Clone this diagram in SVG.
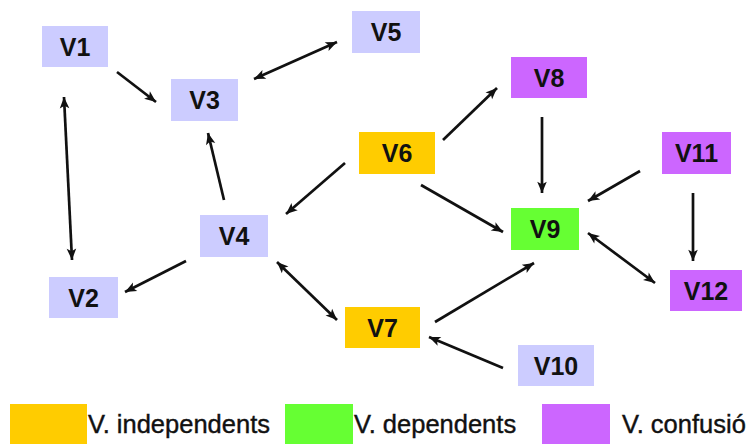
<svg xmlns="http://www.w3.org/2000/svg" width="749" height="444" viewBox="0 0 749 444">
  <style>
    .lbl { font-family: "Liberation Sans", Arial, sans-serif; font-weight: bold; font-size: 25px; fill: #111; text-anchor: middle; }
    .leg { font-family: "Liberation Sans", Arial, sans-serif; font-size: 25.5px; fill: #111; stroke: #111; stroke-width: 0.4; }
    .ind { fill: #FFCC00; }
    .dep { fill: #66FF33; }
    .conf { fill: #CC66FF; }
    .other { fill: #CCCCFF; }
    .edge { stroke: #111; stroke-width: 2.7; fill: none; }
  </style>
  <defs>
    <marker id="head" viewBox="0 0 12 10" refX="11" refY="5" markerWidth="13" markerHeight="11" markerUnits="userSpaceOnUse" orient="auto-start-reverse">
      <path d="M0.5,0.6 L11,5 L0.5,9.4 L3,5 Z" fill="#111"/>
    </marker>
  </defs>

  <rect width="749" height="444" fill="#ffffff"/>

  <!-- nodes -->
  <g id="V1"><rect class="other" x="42" y="26" width="66" height="41"/><text class="lbl" x="75" y="55.5">V1</text></g>
  <g id="V2"><rect class="other" x="49" y="277" width="69" height="41"/><text class="lbl" x="83.5" y="306.5">V2</text></g>
  <g id="V3"><rect class="other" x="171" y="79" width="67" height="42"/><text class="lbl" x="204.5" y="109">V3</text></g>
  <g id="V4"><rect class="other" x="200" y="215" width="68" height="42"/><text class="lbl" x="234" y="245">V4</text></g>
  <g id="V5"><rect class="other" x="352" y="11" width="68" height="42"/><text class="lbl" x="386" y="41">V5</text></g>
  <g id="V6"><rect class="ind" x="359" y="132" width="76" height="42"/><text class="lbl" x="397" y="162">V6</text></g>
  <g id="V7"><rect class="ind" x="345" y="307" width="75" height="41"/><text class="lbl" x="382.5" y="336.5">V7</text></g>
  <g id="V8"><rect class="conf" x="511" y="57" width="76" height="41"/><text class="lbl" x="549" y="86.5">V8</text></g>
  <g id="V9"><rect class="dep" x="511" y="208" width="68" height="42"/><text class="lbl" x="545" y="238">V9</text></g>
  <g id="V10"><rect class="other" x="518" y="345" width="76" height="41"/><text class="lbl" x="556" y="374.5">V10</text></g>
  <g id="V11"><rect class="conf" x="662" y="132" width="69" height="42"/><text class="lbl" x="696.5" y="162">V11</text></g>
  <g id="V12"><rect class="conf" x="670" y="270" width="72" height="41"/><text class="lbl" x="706" y="299.5">V12</text></g>

  <!-- connectors -->
  <g id="connectors" class="edge">
    <line x1="117" y1="72" x2="156" y2="102" marker-end="url(#head)"/>
    <line x1="254" y1="79" x2="337" y2="42" marker-start="url(#head)" marker-end="url(#head)"/>
    <line x1="64" y1="97" x2="72" y2="260" marker-start="url(#head)" marker-end="url(#head)"/>
    <line x1="224" y1="200" x2="208" y2="133" marker-end="url(#head)"/>
    <line x1="345" y1="163" x2="286" y2="214" marker-end="url(#head)"/>
    <line x1="186" y1="261" x2="125" y2="292" marker-end="url(#head)"/>
    <line x1="277" y1="262" x2="337" y2="320" marker-start="url(#head)" marker-end="url(#head)"/>
    <line x1="443" y1="140" x2="497" y2="88" marker-end="url(#head)"/>
    <line x1="542" y1="117" x2="542" y2="193" marker-end="url(#head)"/>
    <line x1="640" y1="171" x2="588" y2="201" marker-end="url(#head)"/>
    <line x1="693" y1="193" x2="693" y2="261" marker-end="url(#head)"/>
    <line x1="421" y1="185" x2="503" y2="232" marker-end="url(#head)"/>
    <line x1="588" y1="233" x2="655" y2="283" marker-start="url(#head)" marker-end="url(#head)"/>
    <line x1="435" y1="322" x2="534" y2="263" marker-end="url(#head)"/>
    <line x1="503" y1="368" x2="429" y2="337" marker-end="url(#head)"/>
  </g>

  <!-- legend -->
  <g id="legend">
    <rect class="ind" x="10" y="404" width="77" height="40"/>
    <text class="leg" x="88" y="433">V. independents</text>
    <rect class="dep" x="285" y="404" width="68" height="40"/>
    <text class="leg" x="354" y="433">V. dependents</text>
    <rect class="conf" x="542" y="404" width="68" height="40"/>
    <text class="leg" x="622" y="433">V. confusió</text>
  </g>
</svg>
